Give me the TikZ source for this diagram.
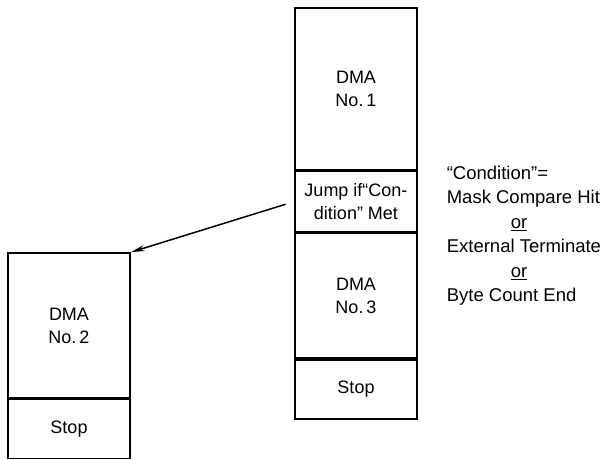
\documentclass[tikz,border=0pt]{standalone}
\usepackage{fontspec}
\setmainfont{Liberation Sans}
\usetikzlibrary{positioning,arrows.meta}
\begin{document}
\begin{tikzpicture}[x=1pt,y=-1pt,line width=1.6pt,
    seg/.style={draw,minimum width=122pt,inner sep=0pt,align=center,
      font=\fontsize{18pt}{23pt}\selectfont}]
  \useasboundingbox (0,0) rectangle (609,459);
  \node[seg,minimum height=162pt] (dma1) at (356,89) {DMA\\No.\,1};
  \node[seg,minimum height=60pt,below=0pt of dma1] (jump) {Jump if``Con-\\dition'' Met};
  \node[seg,minimum height=125pt,below=0pt of jump] (dma3) {DMA\\No.\,3};
  \node[seg,minimum height=59pt,below=0pt of dma3] (stop1) {Stop};
  \node[seg,minimum height=145pt] (dma2) at (69,325.5) {DMA\\No.\,2};
  \node[seg,minimum height=59pt,below=0pt of dma2] (stop2) {Stop};
  \node[anchor=north west,inner sep=0pt,align=left,
    font=\fontsize{18.5pt}{24.5pt}\selectfont] (cond) at (446,165)
    {``Condition''=\\Mask Compare Hit\\\hspace*{64pt}\underline{or}\\
     External Terminate\\\hspace*{64pt}\underline{or}\\Byte Count End};
  \draw[-{Stealth[length=14pt,width=6pt]},line width=1.5pt,shorten <=9pt]
    (jump.west) -- (dma2.north east);
\end{tikzpicture}
\end{document}
